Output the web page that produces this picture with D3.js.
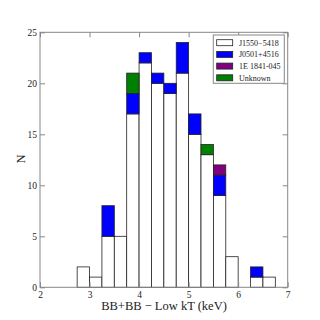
<!DOCTYPE html>
<html><head><meta charset="utf-8">
<script src="https://cdn.jsdelivr.net/npm/d3@7"></script>
<style>body{margin:0;background:#fff}svg{display:block}text{font-family:"Liberation Serif","DejaVu Serif",serif}</style>
</head><body><svg id="c" width="320" height="320"></svg>
<script>
const binStarts = [2.75,3.0,3.25,3.5,3.75,4.0,4.25,4.5,4.75,5.0,5.25,5.5,5.75,6.0,6.25,6.5];
const binWidth = 0.25;
const seriesNames = ["J1550\u22125418","J0501+4516","1E 1841-045","Unknown"];
const seriesColors = ["#ffffff","#0000ff","#800080","#008000"];
const j1550 = [2,1,5,5,17,22,20,19,21,15,13,9,3,0,1,1];
const j0501 = [0,0,3,0,2,1,1,1,3,2,0,2,0,0,1,0];
const e1841 = [0,0,0,0,0,0,0,0,0,0,0,1,0,0,0,0];
const unknown = [0,0,0,0,2,0,0,0,0,0,1,0,0,0,0,0];
const xTicks = [2,3,4,5,6,7];
const yTicks = [0,5,10,15,20,25];

const svg = d3.select("#c");
const L=40,R=287.7,T=32.3,B=287.3;
const x = d3.scaleLinear().domain([2,7]).range([L,R]);
const y = d3.scaleLinear().domain([0,25]).range([B,T]);

const rows = binStarts.map((b,i)=>({b, j1550:j1550[i], j0501:j0501[i], e1841:e1841[i], unknown:unknown[i]}));
const keys = ["j1550","j0501","e1841","unknown"];
const stack = d3.stack().keys(keys)(rows);
stack.forEach((layer,k)=>{
  svg.append("g").selectAll("rect").data(layer.filter(d=>d[1]>d[0])).join("rect")
    .attr("x",d=>x(d.data.b))
    .attr("width",d=>x(d.data.b+binWidth)-x(d.data.b))
    .attr("y",d=>y(d[1])).attr("height",d=>y(d[0])-y(d[1]))
    .attr("fill",seriesColors[k]).attr("stroke","#222").attr("stroke-width",0.8);
});

// frame
svg.append("rect").attr("x",L).attr("y",T).attr("width",R-L).attr("height",B-T)
  .attr("fill","none").attr("stroke","#888").attr("stroke-width",1);

const ax = svg.append("g");
ax.append("g").attr("transform",`translate(0,${B})`)
  .call(d3.axisBottom(x).tickValues(xTicks).tickSize(-5).tickPadding(3.5).tickFormat(d3.format("d")));
ax.append("g").attr("transform",`translate(0,${T})`)
  .call(d3.axisTop(x).tickValues(xTicks).tickSize(-5).tickFormat(""));
ax.append("g").attr("transform",`translate(${L},0)`)
  .call(d3.axisLeft(y).tickValues(yTicks).tickSize(-5).tickPadding(3).tickFormat(d3.format("d")));
ax.append("g").attr("transform",`translate(${R},0)`)
  .call(d3.axisRight(y).tickValues(yTicks).tickSize(-5).tickFormat(""));
ax.selectAll(".domain").remove();
ax.selectAll(".tick line").attr("stroke","#888");
ax.selectAll(".tick text").attr("font-size",9.5).attr("fill","#222").attr("font-family","Liberation Serif");

svg.append("text").attr("x",164).attr("y",309.5).attr("text-anchor","middle").attr("font-size",12.5).attr("fill","#222")
  .text("BB+BB \u2212 Low kT (keV)");
svg.append("text").attr("transform","translate(25,159) rotate(-90)").attr("text-anchor","middle").attr("font-size",12.5).attr("fill","#222").text("N");

// legend
const lg = svg.append("g");
lg.append("rect").attr("x",213.3).attr("y",35).attr("width",71).attr("height",48.3).attr("fill","#fff").attr("stroke","#888").attr("stroke-width",1);
seriesNames.forEach((n,i)=>{
  const yy = 42.7 + i*11.7;
  lg.append("rect").attr("x",216.7).attr("y",yy-3).attr("width",16).attr("height",6).attr("fill",seriesColors[i]).attr("stroke","#222").attr("stroke-width",0.8);
  lg.append("text").attr("x",239).attr("y",yy+3).attr("font-size",8).attr("fill","#222").text(n);
});
</script></body></html>
